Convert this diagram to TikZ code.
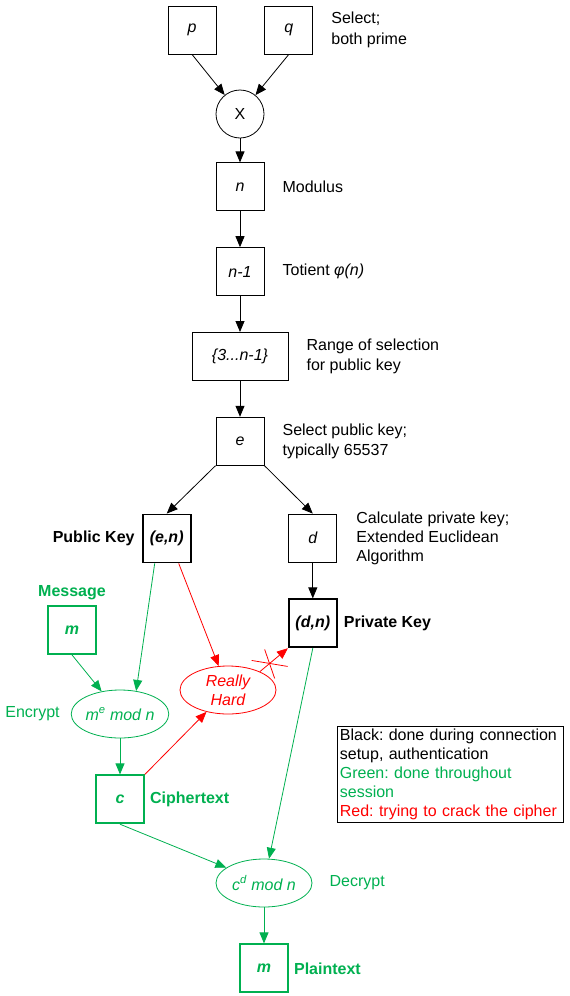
\documentclass[tikz,border=0pt]{standalone}
\usepackage{fontspec}
\setmainfont{Liberation Sans}
\usetikzlibrary{shapes.geometric,arrows.meta,positioning,calc}
\definecolor{rsagreen}{RGB}{0,176,80}

\begin{document}
\frenchspacing
\begin{tikzpicture}[
    x=1pt, y=-1pt,
    font=\fontsize{16}{19.5}\selectfont,
    node distance=36pt,
    box/.style={rectangle, draw=black, line width=0.8pt, minimum size=48pt, inner sep=0pt, font=\fontsize{16}{19.5}\selectfont\itshape},
    keybox/.style={box, line width=1.8pt, font=\fontsize{16}{19.5}\selectfont\bfseries\itshape},
    msgbox/.style={keybox, draw=rsagreen, text=rsagreen},
    op/.style={ellipse, draw=rsagreen, text=rsagreen, line width=0.8pt, minimum width=96pt, minimum height=48pt, inner sep=0pt, font=\fontsize{16}{19.5}\selectfont\itshape},
    hard/.style={op, draw=red, text=red, align=center, font=\fontsize{16}{19}\selectfont\itshape},
    note/.style={inner sep=0pt, align=left},
    tag/.style={note, font=\fontsize{16}{19.5}\selectfont\bfseries},
    arrow/.style={line width=0.8pt, -{Triangle[length=11pt,width=9pt]}}
]

% Page
\useasboundingbox (0,0) rectangle (570,996);

% Primes
\node[box] (p) at (192,30) {p};
\node[box, right=48pt of p] (q) {q};
\node[note, right=18pt of q, font=\fontsize{16}{21}\selectfont] (primelabel) {Select;\\both prime};

% Product
\node[circle, draw, line width=0.8pt, minimum size=48pt, inner sep=0pt] (mult) at (240,114) {X};

% Modulus
\node[box, below=24pt of mult] (n) {n};
\node[note, right=18pt of n] (nlabel) {Modulus};

% Totient
\node[box, below=of n] (tot) {n-1};
\node[note, right=18pt of tot] (totlabel) {Totient \textit{φ(n)}};

% Range of selection
\node[box, minimum width=96pt, below=of tot] (range) {\{3...n-1\}};
\node[note, right=18pt of range] (rangelabel) {Range of selection\\for public key};

% Public exponent
\node[box, below=of range] (e) {e};
\node[note, right=18pt of e] (elabel) {Select public key;\\typically 65537};

% Keys
\node[keybox, below left=48pt and 24pt of e] (pub) {(e,n)};
\node[tag, left=7pt of pub] (publabel) {Public Key};
\node[box, below right=48pt and 24pt of e] (d) {d};
\node[note, right=19pt of d, font=\fontsize{16}{19}\selectfont] (dlabel) {Calculate private key;\\Extended Euclidean\\Algorithm};
\node[keybox, below=of d] (priv) {(d,n)};
\node[tag, right=6pt of priv] (privlabel) {Private Key};

% Message and encryption
\node[msgbox] (msg) at (72,630) {m};
\node[tag, text=rsagreen, above=5pt of msg] (msglabel) {Message};
\node[op] (enc) at (120,714) {m\textsuperscript{e} mod n};
\node[note, text=rsagreen, left=11pt of enc] (enclabel) {Encrypt};
\node[msgbox, below=of enc] (c) {c};
\node[tag, text=rsagreen, right=5pt of c] (clabel) {Ciphertext};

% Attack
\node[hard] (hard) at (228,690) {Really\\Hard};

% Decryption
\node[op] (dec) at (264,883) {c\textsuperscript{d} mod n};
\node[note, text=rsagreen, right=17pt of dec] (declabel) {Decrypt};
\node[msgbox, below=of dec] (plain) {m};
\node[tag, text=rsagreen, right=5pt of plain] (plainlabel) {Plaintext};

% Legend
\node[draw, line width=0.8pt, anchor=north west, text width=221pt, minimum height=96pt, inner xsep=2.5pt, inner ysep=0pt, align=left, font=\fontsize{16}{19.2}\selectfont] (legend) at (337,726) {
    Black: done during connection\\
    setup, authentication\\
    \textcolor{rsagreen}{Green: done throughout}\\
    \textcolor{rsagreen}{session}\\
    \textcolor{red}{Red: trying to crack the cipher}
};

% Arrows
\draw[arrow] (p.south) -- (mult);
\draw[arrow] (q.south) -- (mult);
\draw[arrow] (mult) -- (n);
\draw[arrow] (n) -- (tot);
\draw[arrow] (tot) -- (range);
\draw[arrow] (range) -- (e);
\draw[arrow] (e.south west) -- (pub.north);
\draw[arrow] (e.south east) -- (d.north);
\draw[arrow] (d) -- (priv);
\draw[arrow, rsagreen] (msg.south) -- (enc);
\draw[arrow, rsagreen] ([xshift=-12pt]pub.south) -- (enc.55);
\draw[arrow, red] ([xshift=12pt]pub.south) -- (hard);
\draw[arrow, rsagreen] (enc) -- (c);
\draw[arrow, red] (c.north east) -- (hard);
\draw[arrow, red] (hard.30) -- (priv.south west);
\draw[arrow, rsagreen] (priv.south) -- (dec);
\draw[arrow, rsagreen] (c.south) -- (dec);
\draw[arrow, rsagreen] (dec) -- (plain);

% Blocked path
\coordinate (cut) at ($(hard.30)!0.35!(priv.south west)$);
\draw[red, line width=0.8pt] ([shift={(-18,-3)}]cut) -- ([shift={(18,3)}]cut);
\draw[red, line width=0.8pt] ([shift={(-5,-14)}]cut) -- ([shift={(5,15)}]cut);

\end{tikzpicture}
\end{document}
